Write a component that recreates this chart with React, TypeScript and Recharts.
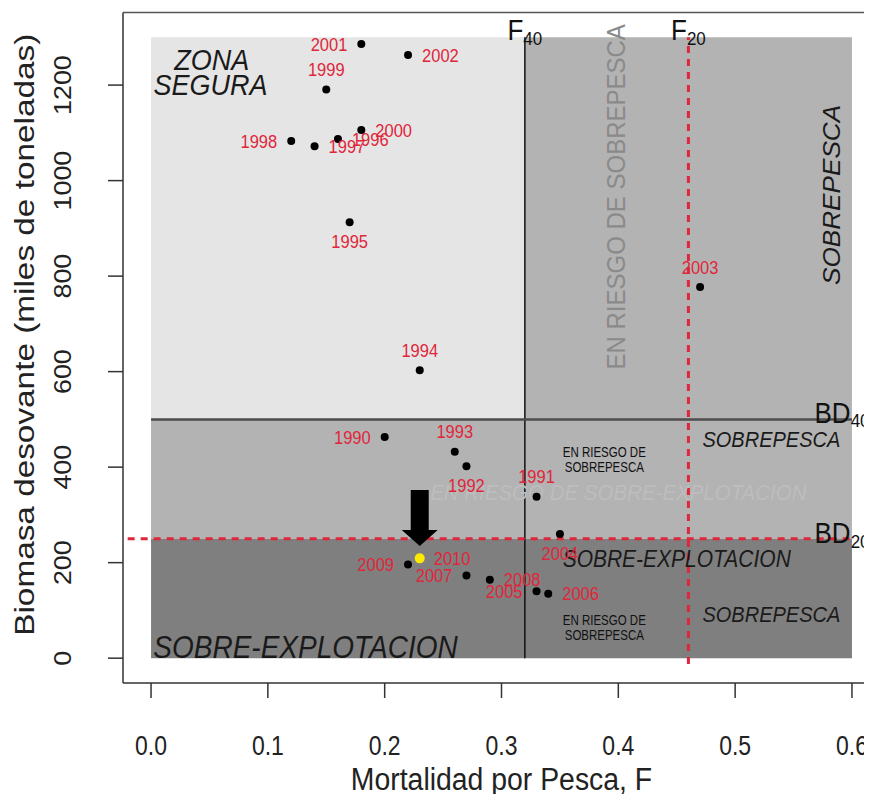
import React from "react";
import {
  ScatterChart,
  Scatter,
  XAxis,
  YAxis,
  ReferenceArea,
  ReferenceLine,
  ReferenceDot,
} from "recharts";

const years = [
  1990, 1991, 1992, 1993, 1994, 1995, 1996, 1997, 1998, 1999, 2000, 2001,
  2002, 2003, 2004, 2005, 2006, 2007, 2008, 2009, 2010,
];
const fishingMortality = [
  0.2, 0.33, 0.27, 0.26, 0.23, 0.17, 0.16, 0.14, 0.12, 0.15, 0.18, 0.18, 0.22,
  0.47, 0.35, 0.33, 0.34, 0.27, 0.29, 0.22, 0.23,
];
const spawningBiomass = [
  463, 338, 402, 432, 603, 913, 1087, 1072, 1083, 1191, 1106, 1286, 1263, 777,
  260, 140, 135, 173, 164, 196, 209,
];
const xTicks = [0, 0.1, 0.2, 0.3, 0.4, 0.5, 0.6];
const yTicks = [0, 200, 400, 600, 800, 1000, 1200];

// reference points
const f40 = 0.32;
const f20 = 0.46;
const bd40 = 500;
const bd20 = 250;
const fMax = 0.6;
const bMax = 1300;
const currentYear = 2010;

const data = years.map((year, i) => ({
  year,
  f: fishingMortality[i],
  b: spawningBiomass[i],
}));

const FONT = "'Liberation Sans', Arial, Helvetica, sans-serif";
const RED = "#e0263a";
const TXT = "#1a1a1a";

// where each year's label sits relative to its dot
const labelSide: Record<number, "l" | "r" | "t" | "b"> = {
  1990: "l", 1998: "l", 2001: "l", 2005: "l", 2007: "l", 2009: "l",
  1996: "r", 1997: "r", 2000: "r", 2002: "r", 2006: "r", 2008: "r", 2010: "r",
  1991: "t", 1993: "t", 1994: "t", 1999: "t", 2003: "t",
  1992: "b", 1995: "b", 2004: "b",
};

interface TxtProps {
  x: number;
  y: number;
  size: number;
  sy?: number;
  anchor?: "start" | "middle" | "end";
  italic?: boolean;
  fill?: string;
  rotate?: boolean;
  children: React.ReactNode;
}

// text centred on (x, y), a bit stretched vertically like the source image
const Txt = ({ x, y, size, sy = 1.15, anchor = "middle", italic, fill = TXT, rotate, children }: TxtProps) => (
  <text
    transform={`translate(${x},${y}) scale(1,${sy})${rotate ? " rotate(-90)" : ""}`}
    fontSize={size}
    fontFamily={FONT}
    fontStyle={italic ? "italic" : "normal"}
    textAnchor={anchor}
    fill={fill}
    dy="0.36em"
  >
    {children}
  </text>
);

const SubLabel = ({ x, y, main, sub }: { x: number; y: number; main: string; sub: string }) => (
  <text transform={`translate(${x},${y}) scale(1,1.12)`} textAnchor="middle" fontFamily={FONT} fill="#111">
    <tspan fontSize={26}>{main}</tspan>
    <tspan fontSize={17} dy={4}>{sub}</tspan>
  </text>
);

const note = (key: string, x: number, y: number, render: (cx: number, cy: number) => React.ReactNode) => (
  <ReferenceDot
    key={key}
    x={x}
    y={y}
    r={0}
    ifOverflow="visible"
    shape={(p: any) => <g>{render(p.cx, p.cy)}</g>}
  />
);

const YearDot = (props: any) => {
  const { cx, cy, payload } = props;
  const side = labelSide[payload.year];
  const hl = payload.year === currentYear;
  let lx = cx;
  let ly = cy;
  let anchor: "start" | "middle" | "end" = "middle";
  if (side === "l") {
    lx = cx - 14;
    anchor = "end";
  } else if (side === "r") {
    lx = cx + 14;
    anchor = "start";
  } else if (side === "t") {
    ly = cy - 20;
  } else {
    ly = cy + 19;
  }
  return (
    <g>
      <circle cx={cx} cy={cy} r={hl ? 5 : 4} fill={hl ? "#ffeb00" : "#000"} />
      <Txt x={lx} y={ly} size={16.5} sy={1.1} anchor={anchor} fill={RED}>
        {payload.year}
      </Txt>
    </g>
  );
};

const XTick = (p: any) => (
  <Txt x={p.x} y={p.y + 47} size={23} sy={1.17} fill="#222">
    {Number(p.payload.value).toFixed(1)}
  </Txt>
);

const YTick = (p: any) => (
  <Txt x={p.x - 45} y={p.y} size={23} sy={1.17} rotate fill="#222">
    {p.payload.value}
  </Txt>
);

const App = () => {
  return (
    <div style={{ margin: -8, width: 872, height: 802, overflow: "hidden", background: "#fff" }}>
      <ScatterChart width={880} height={802} margin={{ top: 12.5, right: 0, bottom: 0, left: 0 }}>
        <XAxis
          type="number"
          dataKey="f"
          domain={[-0.024, 0.624]}
          ticks={xTicks}
          interval={0}
          allowDataOverflow
          height={119}
          tickSize={15}
          tickMargin={0}
          tick={XTick}
          axisLine={{ stroke: "#333", strokeWidth: 1.5 }}
          tickLine={{ stroke: "#333", strokeWidth: 1.5 }}
          label={(p: any) => {
            const vb = p.viewBox;
            return (
              <Txt x={vb.x + vb.width / 2} y={vb.y + 96} size={28.4} sy={1.1} fill="#222">
                Mortalidad por Pesca, F
              </Txt>
            );
          }}
        />
        <YAxis
          type="number"
          dataKey="b"
          domain={[-52, 1352]}
          ticks={yTicks}
          interval={0}
          allowDataOverflow
          width={123}
          tickSize={15}
          tickMargin={0}
          tick={YTick}
          axisLine={{ stroke: "#333", strokeWidth: 1.5 }}
          tickLine={{ stroke: "#333", strokeWidth: 1.5 }}
          label={(p: any) => {
            const vb = p.viewBox;
            return (
              <Txt x={vb.x + 24} y={vb.y + vb.height / 2 - 13} size={28.5} sy={1.17} rotate fill="#222">
                Biomasa desovante (miles de toneladas)
              </Txt>
            );
          }}
        />

        {/* zones */}
        <ReferenceArea x1={0} x2={f40} y1={bd40} y2={bMax} fill="#e5e5e5" fillOpacity={1} stroke="none" />
        <ReferenceArea x1={f40} x2={fMax} y1={bd40} y2={bMax} fill="#b3b3b3" fillOpacity={1} stroke="none" />
        <ReferenceArea x1={0} x2={fMax} y1={bd20} y2={bd40} fill="#b3b3b3" fillOpacity={1} stroke="none" />
        <ReferenceArea x1={0} x2={fMax} y1={0} y2={bd20} fill="#7f7f7f" fillOpacity={1} stroke="none" />

        {/* frame top */}
        <ReferenceLine y={1352} stroke="#555" strokeWidth={1.5} ifOverflow="visible" />

        {/* reference lines */}
        <ReferenceLine segment={[{ x: f40, y: 0 }, { x: f40, y: bMax }]} stroke="#111" strokeWidth={1.5} />
        <ReferenceLine segment={[{ x: 0, y: bd40 }, { x: fMax, y: bd40 }]} stroke="#4d4d4d" strokeWidth={2.5} />
        <ReferenceLine
          segment={[{ x: f20, y: -12 }, { x: f20, y: bMax }]}
          stroke={RED}
          strokeWidth={3}
          strokeDasharray="7 6"
          ifOverflow="visible"
        />
        <ReferenceLine
          segment={[{ x: -0.02, y: bd20 }, { x: fMax, y: bd20 }]}
          stroke={RED}
          strokeWidth={3}
          strokeDasharray="7 6"
          ifOverflow="visible"
        />

        {/* zone texts */}
        {note("zona", 0.052, 1255, (x, y) => <Txt x={x} y={y} size={27} sy={1.12} italic>ZONA</Txt>)}
        {note("segura", 0.051, 1202, (x, y) => <Txt x={x} y={y} size={27} sy={1.12} italic>SEGURA</Txt>)}
        {note("sobreexpl1", 0.002, 25, (x, y) => (
          <Txt x={x} y={y} size={28} sy={1.12} italic anchor="start">SOBRE-EXPLOTACION</Txt>
        ))}
        {note("sobreexpl2", 0.45, 208, (x, y) => <Txt x={x} y={y} size={21} sy={1.12} italic>SOBRE-EXPLOTACION</Txt>)}
        {note("sobrepesca1", 0.531, 459, (x, y) => <Txt x={x} y={y} size={20} sy={1.12} italic>SOBREPESCA</Txt>)}
        {note("sobrepesca2", 0.531, 93, (x, y) => <Txt x={x} y={y} size={20} sy={1.12} italic>SOBREPESCA</Txt>)}
        {note("sobrepesca3", 0.582, 970, (x, y) => (
          <Txt x={x} y={y} size={24} sy={1.09} italic rotate>SOBREPESCA</Txt>
        ))}
        {note("riesgoV", 0.398, 966, (x, y) => (
          <Txt x={x} y={y} size={25} sy={0.96} rotate fill="#8a8a8a">EN RIESGO DE SOBREPESCA</Txt>
        ))}
        {note("riesgoH", 0.4, 348, (x, y) => (
          <Txt x={x} y={y} size={20.5} sy={1.1} italic fill="#bdbdbd">EN RIESGO DE SOBRE-EXPLOTACION</Txt>
        ))}
        {note("small1", 0.388, 416, (x, y) => (
          <g>
            <Txt x={x} y={y - 7.5} size={11.5} sy={1.2} fill="#111">EN RIESGO DE</Txt>
            <Txt x={x} y={y + 7.5} size={11.5} sy={1.2} fill="#111">SOBREPESCA</Txt>
          </g>
        ))}
        {note("small2", 0.388, 64, (x, y) => (
          <g>
            <Txt x={x} y={y - 7.5} size={11.5} sy={1.2} fill="#111">EN RIESGO DE</Txt>
            <Txt x={x} y={y + 7.5} size={11.5} sy={1.2} fill="#111">SOBREPESCA</Txt>
          </g>
        ))}
        {note("f40", f40, 1294, (x, y) => <SubLabel x={x} y={y} main="F" sub="40" />)}
        {note("f20", f20, 1294, (x, y) => <SubLabel x={x} y={y} main="F" sub="20" />)}
        {note("bd40", 0.5915, 492.5, (x, y) => <SubLabel x={x} y={y} main="BD" sub="40" />)}
        {note("bd20", 0.5915, 241, (x, y) => <SubLabel x={x} y={y} main="BD" sub="20" />)}

        <Scatter data={data} shape={YearDot} isAnimationActive={false} />

        {/* arrow pointing at the latest year */}
        {note("arrow", 0.23, 235, (x, y) => (
          <polygon
            points={`${x - 9},${y - 56} ${x + 9},${y - 56} ${x + 9},${y - 16} ${x + 18},${y - 16} ${x},${y} ${x - 18},${y - 16} ${x - 9},${y - 16}`}
            fill="#000"
          />
        ))}
      </ScatterChart>
    </div>
  );
};

export default App;
